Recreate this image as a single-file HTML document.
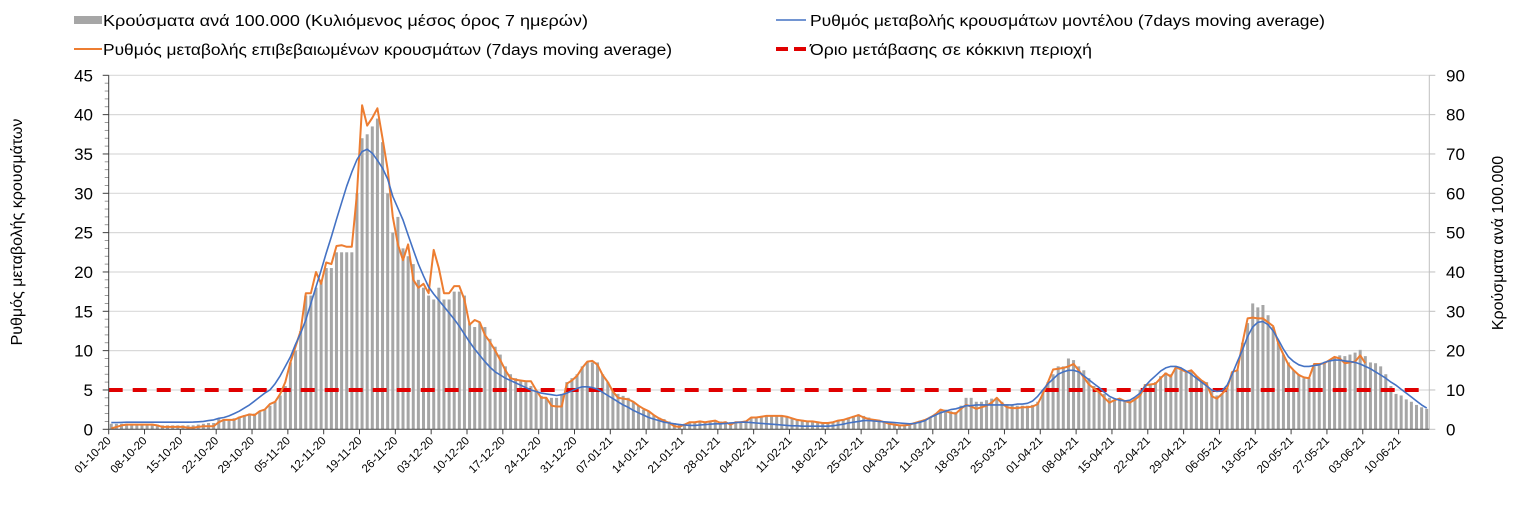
<!DOCTYPE html>
<html><head><meta charset="utf-8"><style>
body{margin:0;background:#fff;}
svg text{font-family:"Liberation Sans",sans-serif;fill:#000;}
</style></head><body>
<svg id="chart" width="1522" height="513" viewBox="0 0 1522 513" xmlns="http://www.w3.org/2000/svg">
<g id="grid"></g>
<g id="bars"></g>
<g id="lines"></g>
<g id="axes"></g>
<g>
  <rect x="74" y="16" width="28" height="8" fill="#a6a6a6"/>
  <text x="103" y="26" font-size="15.5" textLength="485" lengthAdjust="spacingAndGlyphs">Κρούσματα ανά 100.000 (Κυλιόμενος μέσος όρος 7 ημερών)</text>
  <line x1="74" y1="49" x2="102" y2="49" stroke="#ed7d31" stroke-width="2"/>
  <text x="103" y="55" font-size="15.5" textLength="569" lengthAdjust="spacingAndGlyphs">Ρυθμός μεταβολής επιβεβαιωμένων κρουσμάτων (7days moving average)</text>
  <line x1="776" y1="20" x2="806" y2="20" stroke="#4472c4" stroke-width="1.5"/>
  <text x="810" y="26" font-size="15.5" textLength="515" lengthAdjust="spacingAndGlyphs">Ρυθμός μεταβολής κρουσμάτων μοντέλου (7days moving average)</text>
  <line x1="776" y1="49" x2="806" y2="49" stroke="#e00000" stroke-width="4" stroke-dasharray="12,6"/>
  <text x="810" y="55" font-size="15.5" textLength="282" lengthAdjust="spacingAndGlyphs">Όριο μετάβασης σε κόκκινη περιοχή</text>
</g>
<text transform="translate(22,232) rotate(-90)" text-anchor="middle" font-size="16">Ρυθμός μεταβολής κρουσμάτων</text>
<text transform="translate(1503,243) rotate(-90)" text-anchor="middle" font-size="16">Κρούσματα ανά 100.000</text>
</svg>
<script>
const startDate = [2020, 10, 1];
const nDays = 258;
const leftTicks = [0,5,10,15,20,25,30,35,40,45];
const rightTicks = [0,10,20,30,40,50,60,70,80,90];
const threshold = 5;
const confirmedRate = [0.1,0.3,0.5,0.6,0.6,0.6,0.6, 0.6,0.6,0.5,0.3,0.3,0.3,0.3, 0.3,0.2,0.2,0.3,0.4,0.4,0.4, 0.9,1.2,1.2,1.2,1.5,1.7,1.9, 1.8,2.3,2.5,3.2,3.5,4.5,6.0, 8.5,10.5,12.5,17.3,17.3,20,18.5, 21.2,21,23.3,23.4,23.2,23.2,30, 41.2,38.6,39.6,40.8,37,33,27, 23.5,21.5,23.5,19,18,18.5,17.3, 22.8,20.5,17.3,17.3,18.2,18.2,16.5, 13.3,13.9,13.6,12.0,11.1,10.0,8.8, 7.5,6.5,6.3,6.2,6.1,6.1,5.0, 4.0,4.0,3.0,2.9,2.9,5.8,6.2, 6.8,7.8,8.6,8.7,8.2,6.9,6.0, 4.8,4.0,3.9,3.8,3.5,3.0,2.6, 2.3,1.8,1.4,1.1,0.8,0.4,0.3, 0.6,0.9,0.9,1.0,0.9,1.0,1.1, 0.8,0.9,0.6,0.9,0.9,1.0,1.5, 1.5,1.6,1.7,1.7,1.7,1.7,1.6, 1.4,1.2,1.1,1.0,1.0,0.9,0.8, 0.8,0.9,1.1,1.2,1.4,1.6,1.8, 1.5,1.3,1.2,1.1,0.9,0.7,0.6, 0.5,0.5,0.6,0.8,1.0,1.2,1.5, 1.9,2.5,2.3,2.1,2.0,2.6,3.1, 2.9,2.6,2.8,3.0,3.4,4.0,3.3, 2.8,2.7,2.7,2.8,2.8,2.9,3.2, 4.5,6.0,7.6,7.7,7.8,8.0,8.3, 7.5,6.6,5.7,5.2,4.7,4.0,3.4, 3.7,3.9,3.6,3.4,3.8,4.3,5.6, 5.7,5.8,6.5,7.1,6.7,7.9,7.6, 7.3,7.5,6.8,6.2,5.8,4.2,3.9, 4.5,5.2,7.3,7.5,11,14.1,14.2, 14.1,14.1,13.6,13.1,10.9,9.5,8.2, 7.5,6.9,6.6,6.5,8.3,8.3,8.4, 8.8,9.2,9.0,8.4,8.5,8.6,9.4,8.4];
const modelRate = [0.85,0.87,0.88,0.9,0.9,0.9,0.9, 0.9,0.9,0.9,0.9,0.9,0.9,0.9, 0.9,0.9,0.92,0.95,1.0,1.1,1.2, 1.4,1.5,1.7,2.0,2.3,2.7,3.1, 3.6,4.1,4.6,5.0,5.8,6.8,8.0, 9.2,10.8,12.2,13.9,16.0,18.1,20.2, 22.4,24.5,26.7,28.8,30.9,32.7,34.3, 35.3,35.6,35.1,34.2,33.2,31.8,29.6, 28.1,26.6,24.7,22.8,21.0,19.5,18.1, 17.2,16.4,15.6,14.8,14.0,13.1,12.1, 11.1,10.2,9.4,8.6,7.9,7.3,6.9, 6.5,6.2,5.9,5.6,5.3,5.0,4.8, 4.6,4.5,4.4,4.3,4.4,4.6,4.9, 5.2,5.4,5.4,5.3,5.1,4.7,4.3, 3.9,3.5,3.1,2.8,2.4,2.1,1.8, 1.5,1.3,1.1,0.9,0.8,0.7,0.6, 0.55,0.5,0.5,0.55,0.6,0.65,0.7, 0.7,0.75,0.8,0.85,0.9,0.9,0.85, 0.8,0.75,0.7,0.65,0.6,0.55,0.5, 0.45,0.45,0.4,0.4,0.4,0.4,0.4, 0.4,0.45,0.55,0.65,0.8,0.9,1.0, 1.1,1.1,1.05,1.0,0.95,0.9,0.85, 0.8,0.75,0.7,0.75,0.9,1.1,1.5, 1.8,2.1,2.3,2.5,2.6,2.8,3.0, 3.0,3.1,3.1,3.1,3.1,3.1,3.1, 3.1,3.1,3.2,3.2,3.3,3.6,4.2, 5.0,5.8,6.4,7.0,7.3,7.5,7.5, 7.3,6.8,6.3,5.8,5.3,4.7,4.2, 3.9,3.7,3.6,3.7,4.1,4.6,5.5, 6.2,6.8,7.4,7.8,8.0,8.0,7.8, 7.4,7.0,6.5,6.0,5.5,5.0,4.8, 4.9,5.6,7.0,8.6,10.1,11.8,13.0, 13.6,13.7,13.3,12.5,11.4,10.2,9.2, 8.6,8.2,8.0,8.0,8.1,8.2,8.5, 8.7,8.8,8.8,8.7,8.6,8.5,8.3, 8.0,7.7,7.3,6.9,6.5,6.0,5.6, 5.1,4.6,4.1,3.6,3.1,2.7];
const casesPer100k = [1.4,1.4,1.4,1.4,1.4,1.4,1.4, 1.4,1.4,1.2,1.0,1.0,1.0,1.0, 1.0,1.0,1.0,1.2,1.4,1.6,1.6, 2.6,2.6,2.6,2.8,3.2,3.6,4.0, 4.0,4.4,5.0,6.0,7.0,8.6,11, 17,20,25,34,34,36,38, 41,41,45,45,45,45,60, 74,75,77,79,73,60,50, 54,46,44,42,38,36,34, 33,36,33,33,35,35,34, 27,26,27,26,23,21,19, 16,14,13,12.5,12,11,10, 8.5,8,8,8,9,12,13, 14,16,17,17,17,14,12, 10,9,8.5,8,7,6,5, 4.6,3.6,3,2.6,2,1.6,1.4, 1.4,1.6,1.8,1.8,1.8,2.0,2.2, 2.0,2.0,1.8,1.8,2.0,2.2,2.8, 3.2,3.4,3.4,3.4,3.4,3.4,3.2, 2.8,2.6,2.4,2.2,2.0,2.0,1.8, 1.8,1.8,2.2,2.6,3.0,3.4,3.8, 3.4,3.0,2.6,2.4,2.0,1.6,1.4, 1.2,1.2,1.4,1.8,2.2,2.6,3.2, 4,5,5,4.6,4.4,6,8, 8,7,7,7.4,7.8,8,7, 6.4,6.2,6,6,6,6.2,7, 10,12,14,16,16,18,17.6, 16,15,13,11,10,9,8, 7.6,7.6,7.4,7.2,8,10,11.5, 11.6,12,13.5,14.4,14,15.6,15, 14.5,14.8,13.5,12.5,12,10,8.6, 9,10.5,14.5,15,22,27,32, 31,31.6,29,26,22,19,17, 15,14,13,13,16,16.5,17, 17.5,18.5,18.8,18.6,19,19.5,20.2, 18.6,17,16.8,16,14,11,9, 8.6,7.6,7,6.2,5.6,5.2];

const X0 = 108.7, X1 = 1429.3, Y0 = 429.3, Y1 = 75.3;
const NS = 'http://www.w3.org/2000/svg';
const step = (X1 - X0) / nDays;
function xc(i){ return X0 + step * (i + 0.5); }
function xb(i){ return X0 + step * i; }
function yL(v){ return Y0 - (v / 45) * (Y0 - Y1); }
function yR(v){ return Y0 - (v / 90) * (Y0 - Y1); }
function mk(tag, parent, attrs){ const e = document.createElementNS(NS, tag); for (const k in attrs) e.setAttribute(k, attrs[k]); parent.appendChild(e); return e; }

const grid = document.getElementById('grid');
const axes = document.getElementById('axes');
const bars = document.getElementById('bars');
const lines = document.getElementById('lines');

leftTicks.forEach((t, k) => {
  const y = yL(t);
  if (t > 0) {
    const g = mk('line', grid, {x1: X0, x2: X1, y1: y, y2: y, stroke: '#d9d9d9', 'stroke-width': 1.2});
    
    
  }
  const tk = mk('line', axes, {x1: X0 - 6, x2: X0, y1: y, y2: y, stroke: '#404040', 'stroke-width': 1});
  
  
  const lb = mk('text', axes, {x: 93, y: y + 6, 'text-anchor': 'end', 'font-size': 17});
  
  
  lb.textContent = t;
});
for (let v = 1; v < 45; v++) {
  if (v % 5 === 0) continue;
  const y = yL(v);
  const m = mk('line', axes, {x1: X0 - 4, x2: X0, y1: y, y2: y, stroke: '#808080', 'stroke-width': 0.8});
  
  
}
rightTicks.forEach(t => {
  const y = yR(t);
  const tk = mk('line', axes, {x1: X1, x2: X1 + 6, y1: y, y2: y, stroke: '#bfbfbf', 'stroke-width': 1});
  
  
  const lb = mk('text', axes, {x: 1446, y: y + 6, 'font-size': 17});
  
  
  lb.textContent = t;
});

casesPer100k.forEach((v, i) => {
  const h = Y0 - yR(v);
  const r = mk('rect', bars, {x: xc(i) - 1.5, y: yR(v), width: 3, height: h, fill: '#a6a6a6'});
  
  
});

const thr = mk('line', lines, {x1: X0, x2: X1 - 8, y1: yL(threshold), y2: yL(threshold), stroke: '#e00000', 'stroke-width': 4, 'stroke-dasharray': '14,10'});



function poly(arr, color, w, name){
  const pts = arr.map((v, i) => v == null ? null : xc(i).toFixed(1) + ',' + yL(v).toFixed(1)).filter(Boolean).join(' ');
  const p = mk('polyline', lines, {points: pts, fill: 'none', stroke: color, 'stroke-width': w, 'stroke-linejoin': 'round'});
  
  
}
poly(confirmedRate, '#ed7d31', 2, 'confirmed-rate-line');
poly(modelRate, '#4472c4', 1.6, 'model-rate-line');

const ax = mk('line', axes, {x1: X0, x2: X0, y1: Y1, y2: Y0, stroke: '#404040', 'stroke-width': 1});


const axr = mk('line', axes, {x1: X1, x2: X1, y1: Y1, y2: Y0, stroke: '#bfbfbf', 'stroke-width': 1});


const axx = mk('line', axes, {x1: X0, x2: X1, y1: Y0, y2: Y0, stroke: '#404040', 'stroke-width': 1});



function pad(n){ return (n < 10 ? '0' : '') + n; }
for (let i = 0; i < nDays; i += 7) {
  const d = new Date(startDate[0], startDate[1] - 1, startDate[2] + i);
  const lab = pad(d.getDate()) + '-' + pad(d.getMonth() + 1) + '-' + String(d.getFullYear()).slice(2);
  const x = xb(i);
  const tk = mk('line', axes, {x1: x, x2: x, y1: Y0, y2: Y0 + 5, stroke: '#404040', 'stroke-width': 1});
  
  
  const t = mk('text', axes, {x: x + 3, y: Y0 + 12, 'text-anchor': 'end', 'font-size': 11.5, transform: `rotate(-45 ${x + 3} ${Y0 + 12})`});
  
  
  t.textContent = lab;
}
</script>
</body></html>
